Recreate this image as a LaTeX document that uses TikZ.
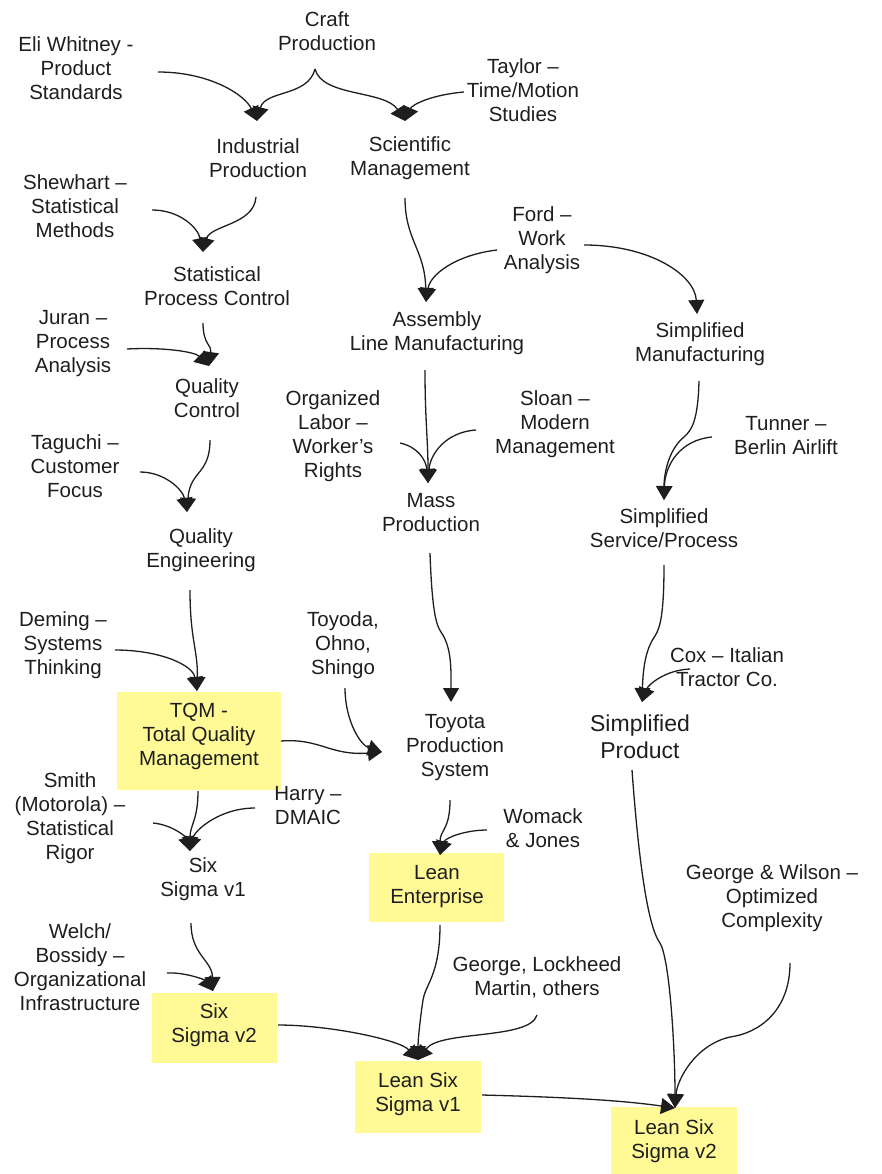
\documentclass[tikz,border=0pt]{standalone}
\usepackage{fontspec}
\setmainfont{Liberation Sans}
\usetikzlibrary{arrows.meta}
\definecolor{ink}{RGB}{30,30,30}
\definecolor{hl}{RGB}{255,250,150}
\begin{document}
\begin{tikzpicture}[x=1pt,y=-1pt,
  txt/.style={align=center,inner sep=0pt,text=ink,font=\fontsize{20.5}{24}\selectfont},
  big/.style={align=center,inner sep=0pt,text=ink,font=\fontsize{23}{27}\selectfont},
  conn/.style={draw=ink,line width=1.3pt,-{Triangle[width=16pt,length=14pt]}}]
\useasboundingbox (0,0) rectangle (881,1174);
% boxes
\fill[hl] (117,692) rectangle (281,790);
\fill[hl] (369,853) rectangle (504,922);
\fill[hl] (152,993) rectangle (277,1063);
\fill[hl] (355,1061) rectangle (481,1133);
\fill[hl] (611,1107) rectangle (737,1174);
% text nodes
\node[txt] (craft) at (327,31) {Craft\\Production};
\node[txt] (eli) at (76,68) {Eli Whitney -\\Product\\Standards};
\node[txt] (taylor) at (523,90) {Taylor --\\Time/Motion\\Studies};
\node[txt] (ind) at (258,158) {Industrial\\Production};
\node[txt] (sci) at (410,158) {Scientific\\Management};
\node[txt] (shew) at (75,206) {Shewhart --\\Statistical\\Methods};
\node[txt] (ford) at (542,240) {Ford --\\Work\\Analysis};
\node[txt] (spc) at (217,286) {Statistical\\Process Control};
\node[txt] (asm) at (437,333) {Assembly\\Line Manufacturing};
\node[txt] (sm) at (700,344) {Simplified\\Manufacturing};
\node[txt] (juran) at (73,344) {Juran --\\Process\\Analysis};
\node[txt] (qc) at (207,398) {Quality\\Control};
\node[txt] (org) at (333,436) {Organized\\Labor --\\Worker’s\\Rights};
\node[txt] (sloan) at (555,424) {Sloan --\\Modern\\Management};
\node[txt] (tunner) at (786,436) {Tunner --\\Berlin Airlift};
\node[txt] (taguchi) at (75,466) {Taguchi --\\Customer\\Focus};
\node[txt] (mp) at (431,513) {Mass\\Production};
\node[txt] (ssp) at (664,528) {Simplified\\Service/Process};
\node[txt] (qe) at (201,550) {Quality\\Engineering};
\node[txt] (deming) at (63,645) {Deming --\\Systems\\Thinking};
\node[txt] (toyoda) at (343,645) {Toyoda,\\Ohno,\\Shingo};
\node[txt] (cox) at (727,667) {Cox -- Italian\\Tractor Co.};
\node[txt] (tqm) at (199,736) {TQM -\\Total Quality\\Management};
\node[txt] (tps) at (455,748) {Toyota\\Production\\System};
\node[big] (sp) at (640,737) {Simplified\\Product};
\node[txt] (smith) at (70,818) {Smith\\(Motorola) --\\Statistical\\Rigor};
\node[txt] (harry) at (308,806) {Harry --\\DMAIC};
\node[txt] (womack) at (543,828) {Womack\\\& Jones};
\node[txt] (ss1) at (203,879) {Six\\Sigma v1};
\node[txt] (le) at (437,887) {Lean\\Enterprise};
\node[txt] (gw) at (772,898) {George \& Wilson --\\Optimized\\Complexity};
\node[txt] (welch) at (80,967) {Welch/\\Bossidy --\\Organizational\\Infrastructure};
\node[txt] (glm) at (537,977) {George, Lockheed\\Martin, others};
\node[txt] (ss2) at (214,1025) {Six\\Sigma v2};
\node[txt] (lss1) at (418,1094) {Lean Six\\Sigma v1};
\node[txt] (lss2) at (674,1141) {Lean Six\\Sigma v2};
% arrow tips
\coordinate (tInd) at (257,121);
\coordinate (tSci) at (405,121);
\coordinate (tSpc) at (203,252);
\coordinate (tAsm) at (426,302);
\coordinate (tSm) at (697,314);
\coordinate (tQc) at (209,366);
\coordinate (tSsp) at (664,500);
\coordinate (tMp) at (428,483);
\coordinate (tQe) at (187,512);
\coordinate (tTqm) at (197,691);
\coordinate (tTps) at (451,702);
\coordinate (tTps2) at (382,752);
\coordinate (tSp) at (642,702);
\coordinate (tSs1) at (190,851);
\coordinate (tLe) at (440,855);
\coordinate (tSs2) at (213,991);
\coordinate (tLss1) at (418,1060);
\coordinate (tLss2) at (675,1108);
% start points
\coordinate (sEli) at (158,72);
\coordinate (sCraft) at (315,69);
\coordinate (sTaylor) at (464,92);
\coordinate (sShew) at (152,210);
\coordinate (sInd) at (256,197);
\coordinate (sSci) at (405,198);
\coordinate (sFordL) at (497,250);
\coordinate (sFordR) at (584,245);
\coordinate (sSpc) at (203,323);
\coordinate (sJuran) at (127,349);
\coordinate (sSm) at (699,381);
\coordinate (sTunner) at (712,437);
\coordinate (sAsm) at (425,370);
\coordinate (sOrg) at (400,443);
\coordinate (sSloan) at (476,430);
\coordinate (sQc) at (210,440);
\coordinate (sTaguchi) at (140,472);
\coordinate (sQe) at (190,590);
\coordinate (sDeming) at (115,650);
\coordinate (sMp) at (430,553);
\coordinate (sToyoda) at (345,688);
\coordinate (sTqmR) at (281,741);
\coordinate (sSsp) at (664,565);
\coordinate (sCox) at (690,669);
\coordinate (sTqmB) at (198,791);
\coordinate (sSmith) at (153,823);
\coordinate (sHarry) at (255,808);
\coordinate (sTps) at (450,800);
\coordinate (sWomack) at (487,830);
\coordinate (sSs1) at (191,923);
\coordinate (sWelch) at (167,973);
\coordinate (sLe) at (440,925);
\coordinate (sSs2) at (278,1025);
\coordinate (sGlm) at (537,1015);
\coordinate (sSp) at (632,770);
\coordinate (sGw) at (790,963);
\coordinate (sLss1) at (482,1095);
% connectors
\draw[conn] (sEli) .. controls (210,72) and (245,95) .. (tInd);
\draw[conn] (sCraft) .. controls (308,97) and (265,90) .. (tInd);
\draw[conn] (sCraft) .. controls (322,97) and (385,90) .. (tSci);
\draw[conn] (sTaylor) .. controls (430,95) and (412,105) .. (tSci);
\draw[conn] (sShew) .. controls (180,210) and (198,228) .. (tSpc);
\draw[conn] (sInd) .. controls (254,225) and (210,225) .. (tSpc);
\draw[conn] (sSci) .. controls (405,240) and (425,250) .. (tAsm);
\draw[conn] (sFordL) .. controls (455,255) and (430,275) .. (tAsm);
\draw[conn] (sFordR) .. controls (650,245) and (695,275) .. (tSm);
\draw[conn] (sSpc) .. controls (203,345) and (212,345) .. (tQc);
\draw[conn] (sJuran) .. controls (165,347) and (195,352) .. (tQc);
\draw[conn] (sSm) .. controls (698,420) and (692,430) .. (684,437) .. controls (668,450) and (664,475) .. (tSsp);
\draw[conn] (sTunner) .. controls (680,440) and (665,465) .. (tSsp);
\draw[conn] (sAsm) .. controls (425,420) and (428,440) .. (tMp);
\draw[conn] (sOrg) .. controls (418,447) and (426,460) .. (tMp);
\draw[conn] (sSloan) .. controls (445,432) and (430,455) .. (tMp);
\draw[conn] (sQc) .. controls (210,475) and (190,470) .. (tQe);
\draw[conn] (sTaguchi) .. controls (165,472) and (183,490) .. (tQe);
\draw[conn] (sQe) .. controls (190,640) and (198,650) .. (tTqm);
\draw[conn] (sDeming) .. controls (160,650) and (193,665) .. (tTqm);
\draw[conn] (sMp) .. controls (432,610) and (436,625) .. (441,632) .. controls (452,648) and (451,670) .. (tTps);
\draw[conn] (sToyoda) .. controls (345,720) and (360,745) .. (tTps2);
\draw[conn] (sTqmR) .. controls (320,738) and (330,756) .. (tTps2);
\draw[conn] (sSsp) .. controls (664,615) and (660,628) .. (655,636) .. controls (645,650) and (643,670) .. (tSp);
\draw[conn] (sCox) .. controls (665,670) and (648,685) .. (tSp);
\draw[conn] (sTqmB) .. controls (198,820) and (190,825) .. (tSs1);
\draw[conn] (sSmith) .. controls (173,825) and (186,837) .. (tSs1);
\draw[conn] (sHarry) .. controls (220,808) and (195,830) .. (tSs1);
\draw[conn] (sTps) .. controls (450,830) and (440,830) .. (tLe);
\draw[conn] (sWomack) .. controls (465,830) and (445,838) .. (tLe);
\draw[conn] (sSs1) .. controls (191,955) and (212,960) .. (tSs2);
\draw[conn] (sWelch) .. controls (185,972) and (205,980) .. (tSs2);
\draw[conn] (sLe) .. controls (440,975) and (425,985) .. (423,1000) .. controls (420,1020) and (418,1040) .. (tLss1);
\draw[conn] (sSs2) .. controls (330,1025) and (400,1040) .. (tLss1);
\draw[conn] (sGlm) .. controls (530,1040) and (440,1030) .. (tLss1);
\draw[conn] (sSp) .. controls (640,880) and (650,930) .. (660,943) .. controls (670,960) and (675,1050) .. (tLss2);
\draw[conn] (sGw) .. controls (790,1010) and (760,1033) .. (730,1037) .. controls (695,1045) and (677,1080) .. (tLss2);
\draw[conn] (sLss1) .. controls (560,1097) and (620,1100) .. (tLss2);
\end{tikzpicture}
\end{document}
